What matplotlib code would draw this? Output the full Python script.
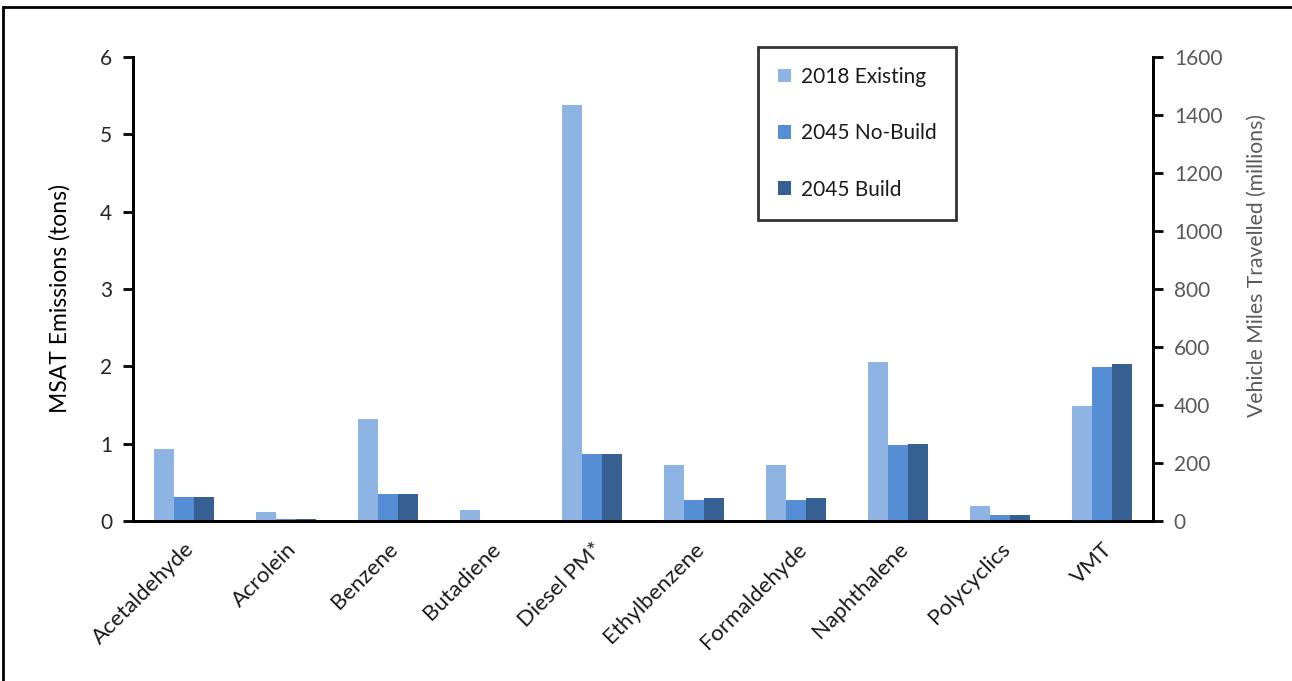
import numpy as np
import matplotlib
matplotlib.use("Agg")
import matplotlib.pyplot as plt
from matplotlib.patches import Rectangle

plt.rcParams["font.family"] = ["Lato", "DejaVu Sans"]

CATEGORIES = ["Acetaldehyde", "Acrolein", "Benzene", "Butadiene", "Diesel PM*",
              "Ethylbenzene", "Formaldehyde", "Naphthalene", "Polycyclics", "VMT"]
SERIES = ["2018 Existing", "2045 No-Build", "2045 Build"]
COLORS = ["#8EB4E3", "#558ED5", "#376092"]

# MSAT emissions (tons), first nine categories
EXISTING_2018 = [0.93, 0.12, 1.32, 0.14, 5.38, 0.72, 0.72, 2.05, 0.20]
NOBUILD_2045 = [0.31, 0.02, 0.35, 0.0, 0.87, 0.27, 0.27, 0.98, 0.08]
BUILD_2045 = [0.31, 0.02, 0.35, 0.0, 0.87, 0.30, 0.30, 1.00, 0.08]

# VMT (millions), right axis
VMT = [398, 532, 542]

emis = [EXISTING_2018, NOBUILD_2045, BUILD_2045]

fig = plt.figure(figsize=(12.92, 6.81), dpi=100)
ax = fig.add_axes([133 / 1292, 1 - 521 / 681, 1020 / 1292, 464 / 681])
ax2 = ax.twinx()

w = 0.195
x = np.arange(len(CATEGORIES) - 1)
for i, (vals, c, name) in enumerate(zip(emis, COLORS, SERIES)):
    ax.bar(x + (i - 1) * w, vals, w, color=c, label=name, edgecolor="none")
    ax2.bar(len(CATEGORIES) - 1 + (i - 1) * w, VMT[i], w, color=c, edgecolor="none")

ax.set_xlim(-0.5, len(CATEGORIES) - 0.5)
ax.set_ylim(0, 6)
ax2.set_ylim(0, 1600)
ax.set_yticks(range(0, 7))
ax2.set_yticks(range(0, 1601, 200))

ax.set_xticks(range(len(CATEGORIES)))
ax.set_xticklabels(CATEGORIES, rotation=45, ha="right", rotation_mode="anchor",
                   fontsize=16, color="#1a1a1a")
ax.tick_params(axis="x", length=0, pad=13)
ax.tick_params(axis="y", labelsize=15, colors="black", labelcolor="#262626",
               width=2, length=7, direction="out", pad=8)
ax2.tick_params(axis="y", labelsize=15, colors="black", labelcolor="#595959",
                width=2, length=7, direction="out", pad=8)

for a in (ax, ax2):
    a.spines["top"].set_visible(False)
    for s in ("left", "right", "bottom"):
        a.spines[s].set_linewidth(2)
        a.spines[s].set_color("black")

ax.set_ylabel("MSAT Emissions (tons)", fontsize=16.5, color="black")
ax.yaxis.set_label_coords(-62 / 1020, 0.48)
ax2.set_ylabel("Vehicle Miles Travelled (millions)", fontsize=15.2, color="#595959",
               rotation=90)
ax2.yaxis.set_label_coords(1 + 94 / 1020, 0.55)

leg = ax.legend(loc="upper left", bbox_to_anchor=(625 / 1020, 1 + 10 / 464),
                fontsize=15, frameon=True, fancybox=False, edgecolor="black",
                handlelength=0.65, handleheight=0.65, handletextpad=0.45,
                labelspacing=1.75, borderpad=0.95, borderaxespad=0)
leg.get_frame().set_linewidth(2)
for t in leg.get_texts():
    t.set_color("#1a1a1a")

fig.patches.append(Rectangle((3 / 1292, -0.05), 1.1, 1 - 7 / 681 + 0.05,
                             transform=fig.transFigure, fill=False,
                             edgecolor="black", linewidth=2))

fig.savefig("out.png", dpi=100)
